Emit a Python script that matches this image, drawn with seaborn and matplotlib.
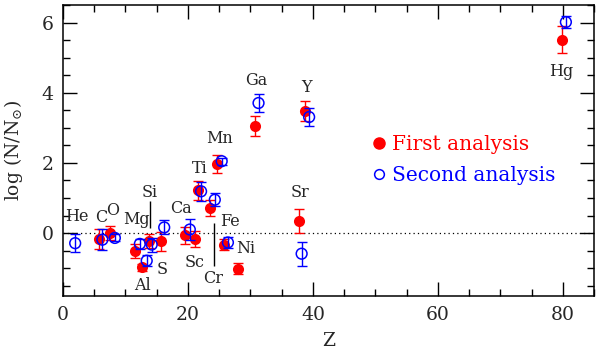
import numpy as np
import pandas as pd
import matplotlib
matplotlib.use('Agg')
import matplotlib.pyplot as plt
import seaborn as sns
from matplotlib.ticker import MultipleLocator
from matplotlib.lines import Line2D

# First analysis (filled red)
first_z = [5.8, 7.6, 11.5, 12.6, 13.7, 15.7, 19.5, 21.1, 21.6, 23.6, 24.7, 25.8, 28.0, 30.8, 37.7, 38.7, 79.9]
first_val = [-0.17, 0.00, -0.50, -0.97, -0.24, -0.24, -0.07, -0.17, 1.22, 0.71, 1.97, -0.33, -1.02, 3.05, 0.35, 3.49, 5.52]
first_err = [0.28, 0.21, 0.20, 0.10, 0.20, 0.28, 0.25, 0.23, 0.27, 0.22, 0.27, 0.15, 0.16, 0.28, 0.34, 0.28, 0.39]

# Second analysis (open blue)
second_z = [1.95, 6.3, 8.3, 12.3, 13.4, 14.2, 16.2, 20.3, 22.1, 24.3, 25.4, 26.4, 31.3, 38.2, 39.4, 80.5]
second_val = [-0.29, -0.19, -0.14, -0.31, -0.79, -0.33, 0.16, 0.10, 1.19, 0.95, 2.05, -0.27, 3.71, -0.59, 3.31, 6.02]
second_err = [0.25, 0.30, 0.10, 0.15, 0.15, 0.20, 0.20, 0.30, 0.27, 0.18, 0.10, 0.17, 0.26, 0.34, 0.25, 0.17]

# element labels and where they sit
elements = ['He', 'C', 'O', 'Mg', 'Si', 'Al', 'S', 'Ca', 'Sc', 'Ti', 'Cr', 'Mn', 'Fe', 'Ni', 'Ga', 'Sr', 'Y', 'Hg']
label_z = [2.2, 6.1, 7.9, 11.8, 13.9, 12.8, 15.9, 18.9, 21.0, 21.9, 24.0, 25.0, 26.8, 29.3, 31.0, 38.0, 39.0, 79.7]
label_y = [0.47, 0.45, 0.64, 0.38, 1.16, -1.50, -1.03, 0.69, -0.84, 1.83, -1.29, 2.71, 0.33, -0.43, 4.36, 1.16, 4.16, 4.62]

sns.set_style('ticks')
plt.rcParams['font.family'] = ['DejaVu Serif']
plt.rcParams['mathtext.fontset'] = 'dejavuserif'

fig = plt.figure(figsize=(6, 3.5), dpi=100)
ax = fig.add_axes([0.105, 0.154, 0.885, 0.831])

ax.axhline(0, color='black', linestyle=(0, (1, 2.5)), linewidth=0.9, zorder=1)

# first analysis
ax.errorbar(first_z, first_val, yerr=first_err, fmt='none', ecolor='red',
            elinewidth=1, capsize=3.5, capthick=1, zorder=2)
sns.scatterplot(x=first_z, y=first_val, color='red', s=64, edgecolor='red',
                linewidth=0, ax=ax, zorder=3)

# second analysis
ax.errorbar(second_z, second_val, yerr=second_err, fmt='none', ecolor='blue',
            elinewidth=1, capsize=3.5, capthick=1, zorder=4)
sns.scatterplot(x=second_z, y=second_val, color='blue', s=60, edgecolor='blue',
                linewidth=1.1, ax=ax, zorder=5)
ax.collections[-1].set_facecolor('none')

# labels
for name, zx, zy in zip(elements, label_z, label_y):
    ax.text(zx, zy, name, ha='center', va='center', fontsize=11.5)
ax.vlines([13.95, 24.2], [0.14, -0.93], [0.90, 0.29], color='black', linewidth=1)

# legend
handles = [Line2D([], [], marker='o', linestyle='', color='red', markersize=8),
           Line2D([], [], marker='o', linestyle='', markerfacecolor='none',
                  markeredgecolor='blue', markeredgewidth=1.1, markersize=7)]
leg = ax.legend(handles, ['First analysis', 'Second analysis'], frameon=False,
                loc='center left', bbox_to_anchor=(0.55, 0.467), fontsize=14.5,
                handlelength=0.6, handletextpad=0.35, labelspacing=0.6)
for txt, c in zip(leg.get_texts(), ['red', 'blue']):
    txt.set_color(c)

ax.set_xlim(0, 85)
ax.set_ylim(-1.8, 6.5)
ax.xaxis.set_major_locator(MultipleLocator(20))
ax.xaxis.set_minor_locator(MultipleLocator(5))
ax.yaxis.set_major_locator(MultipleLocator(2))
ax.yaxis.set_minor_locator(MultipleLocator(0.5))
ax.tick_params(which='both', direction='in', top=True, right=True, width=1, color='black')
ax.tick_params(which='major', length=10, labelsize=13.5, pad=7)
ax.tick_params(which='minor', length=5)
for sp in ax.spines.values():
    sp.set_linewidth(1.1)
    sp.set_color('black')

ax.set_xlabel('Z', fontsize=13.5)
ax.set_ylabel(r'log (N/N$_{\odot}$)', fontsize=13.5)
ax.xaxis.set_label_coords(0.5, -0.125)
ax.yaxis.set_label_coords(-0.072, 0.5)

fig.savefig('out.png', dpi=100)
